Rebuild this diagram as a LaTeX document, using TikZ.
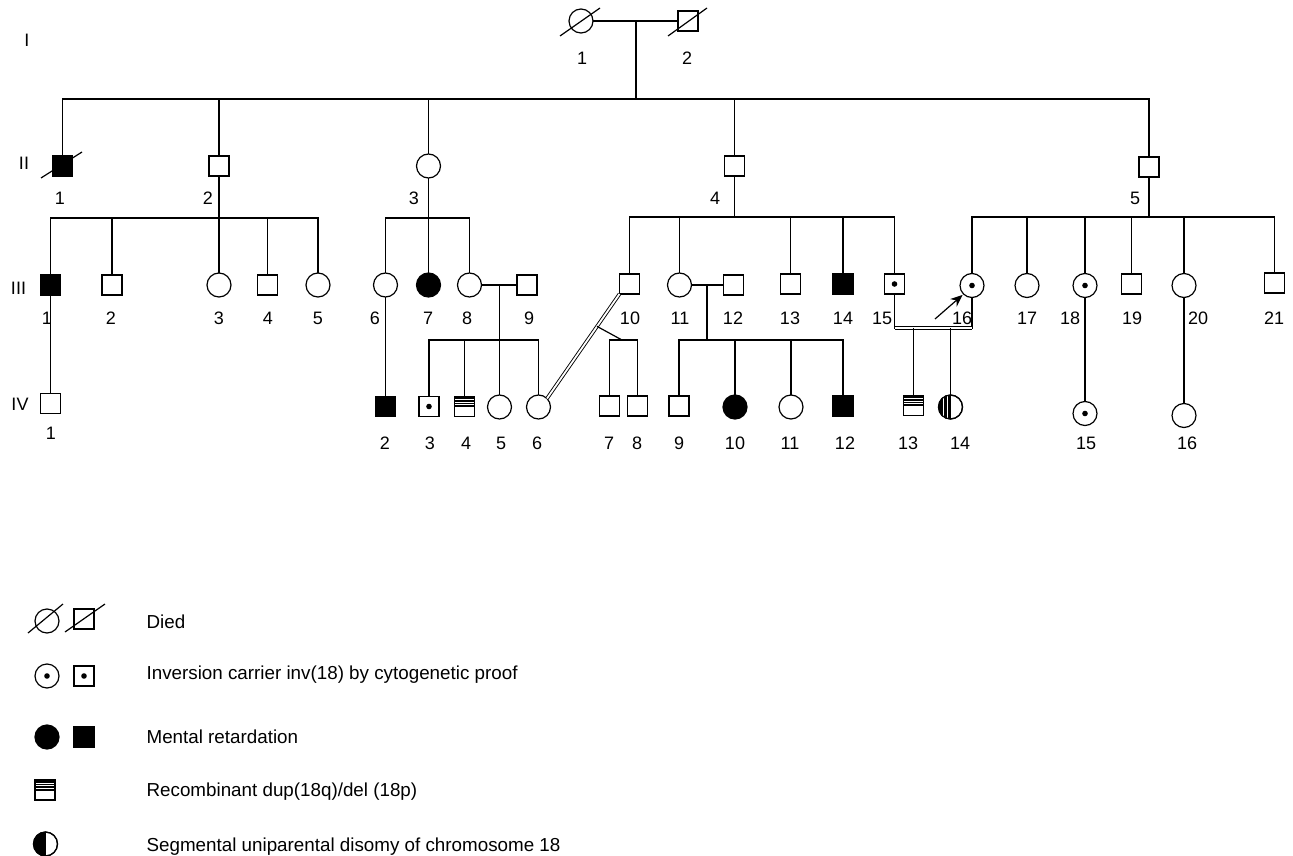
\documentclass[tikz,border=0pt]{standalone}
\usepackage{fontspec}
\setmainfont{Liberation Sans}
\usetikzlibrary{calc,arrows.meta}
\newcommand\pedfont{\fontsize{18pt}{21pt}\selectfont}
\newcommand\legfont{\fontsize{18.8pt}{22pt}\selectfont}
\begin{document}
\begin{tikzpicture}[x=1pt,y=-1pt,
  line width=1.2pt,
  sq/.style={draw, rectangle, minimum size=20pt, inner sep=0pt, outer sep=0pt, line width=1.2pt, fill=white},
  ci/.style={draw, circle, minimum size=24pt, inner sep=0pt, outer sep=0pt, line width=1.2pt, fill=white},
  aff/.style={fill=black},
  lab/.style={font=\pedfont, inner sep=0pt},
  leg/.style={font=\legfont, inner sep=0pt, anchor=base west},
  dbl/.style={double, double distance=1.8pt, line width=0.9pt}
]
\useasboundingbox (0,0) rectangle (1293,856);

% ---------- Generation I ----------
\node[ci] (i1) at (581,21) {};
\node[sq] (i2) at (688,21) {};
% ---------- Generation II ----------
\node[sq,aff] (ii1) at (62.5,166) {};
\node[sq] (ii2) at (219,166) {};
\node[ci] (ii3) at (428.5,166) {};
\node[sq] (ii4) at (734.5,166) {};
\node[sq] (ii5) at (1149,167) {};
% ---------- Generation III ----------
\node[sq,aff] (iii1) at (50.5,285) {};
\node[sq] (iii2) at (112,285) {};
\node[ci] (iii3) at (219,285) {};
\node[sq] (iii4) at (267.5,285) {};
\node[ci] (iii5) at (318,285) {};
\node[ci] (iii6) at (385.5,285) {};
\node[ci,aff] (iii7) at (428.5,285) {};
\node[ci] (iii8) at (469.5,285) {};
\node[sq] (iii9) at (527,285) {};
\node[sq] (iii10) at (629.5,284) {};
\node[ci] (iii11) at (679.5,285) {};
\node[sq] (iii12) at (733.5,285) {};
\node[sq] (iii13) at (790.5,284) {};
\node[sq,aff] (iii14) at (843,284) {};
\node[sq] (iii15) at (894.5,284) {};
\node[ci] (iii16) at (972,285.5) {};
\node[ci] (iii17) at (1027,285.5) {};
\node[ci] (iii18) at (1085,285.5) {};
\node[sq] (iii19) at (1131.5,284) {};
\node[ci] (iii20) at (1184,285.5) {};
\node[sq] (iii21) at (1274.5,283) {};
% ---------- Generation IV ----------
\node[sq] (iv1) at (50.5,403.5) {};
\node[sq,aff] (iv2) at (385.5,406.5) {};
\node[sq] (iv3) at (429,406.5) {};
\node[sq] (iv4) at (464.5,406.5) {};
\node[ci] (iv5) at (499.5,407) {};
\node[ci] (iv6) at (538.5,407) {};
\node[sq] (iv7) at (609.5,406) {};
\node[sq] (iv8) at (637.5,406) {};
\node[sq] (iv9) at (679,406) {};
\node[ci,aff] (iv10) at (735,407) {};
\node[ci] (iv11) at (791,407) {};
\node[sq,aff] (iv12) at (843,406) {};
\node[sq] (iv13) at (913.5,405.5) {};
\node[ci] (iv14) at (950.5,407) {};
\node[ci] (iv15) at (1085,413.5) {};
\node[ci] (iv16) at (1184,415.5) {};

% ---------- connectors ----------
\coordinate (mI) at (636,21);
\coordinate (sI) at (636,99);
\draw (i1) -- (i2);
\draw (mI) -- (sI);
\draw (ii1.north) |- (sI) -| (ii5.north);
\foreach \n in {ii2,ii3,ii4} \draw (\n.north) -- (\n.north |- sI);

\coordinate (s2) at (219,218);
\draw (ii2.south) -- (s2);
\draw (iii1.north) |- (s2) -| (iii5.north);
\foreach \n in {iii2,iii3,iii4} \draw (\n.north) -- (\n.north |- s2);

\coordinate (s3) at (428.5,218);
\draw (ii3.south) -- (s3);
\draw (iii6.north) |- (s3) -| (iii8.north);
\draw (iii7.north) -- (iii7.north |- s3);

\coordinate (s4) at (734.5,217);
\draw (ii4.south) -- (s4);
\draw (iii10.north) |- (s4) -| (iii15.north);
\foreach \n in {iii11,iii13,iii14} \draw (\n.north) -- (\n.north |- s4);

\coordinate (s5) at (1149,217);
\draw (ii5.south) -- (s5);
\draw (iii16.north) |- (s5) -| (iii21.north);
\foreach \n in {iii17,iii18,iii19,iii20} \draw (\n.north) -- (\n.north |- s5);

% marriages in III
\draw (iii8) -- (iii9.west |- iii8);
\coordinate (m89) at (499.5,285);
\coordinate (s89) at (499.5,340);
\draw (m89) -- (s89);
\draw (iv3.north) |- (s89) -| (iv6.north);
\draw (iv4.north) -- (iv4.north |- s89);
\draw (s89) -- (iv5.north);

\draw (iii11) -- (iii12.west |- iii11);
\coordinate (m1112) at (707,285);
\coordinate (s1112) at (707,340);
\draw (m1112) -- (s1112);
\draw (iv9.north) |- (s1112) -| (iv12.north);
\draw (iv10.north) -- (iv10.north |- s1112);
\draw (iv11.north) -- (iv11.north |- s1112);

\draw (iii1) -- (iv1);
\draw (iii6) -- (iv2);
\draw (iii18) -- (iv15);
\draw (iii20) -- (iv16);

% consanguineous III-10 x IV-6 with twins
\draw[dbl] (iii10.south west) -- (iv6.north east);
\coordinate (tw) at ($(iii10.south west)!0.31!(iv6.north east)$);
\coordinate (stw) at (622,340);
\draw (tw) -- (stw);
\draw (iv7.north) |- (stw) -| (iv8.north);

% consanguineous III-15 x III-16
\coordinate (c1516) at (930,328);
\draw (iii15.south) -- ([yshift=-1pt]iii15.south |- c1516);
\draw (iii16.south) -- ([yshift=-1pt]iii16.south |- c1516);
\draw[dbl] (iii15.south |- c1516) -- (iii16.south |- c1516);
\draw (iv13.north) -- (iv13.north |- c1516);
\draw (iv14.north) -- (iv14.north |- c1516);

% proband arrow
\coordinate (arr) at (935,319);
\draw[line width=1.2pt,-{Stealth[length=12pt,width=10pt]}] (arr) -- ([xshift=-1pt,yshift=-1pt]iii16.south west);

% ---------- died slashes ----------
\draw (i1.center) ++(-21,15) -- ++(40,-28);
\draw (i2.center) ++(-20,15) -- ++(39,-28);
\draw (ii1.center) ++(-21.5,12) -- ++(41,-26);

% ---------- legend symbols ----------
\node[ci] (ld1c) at (47,621) {};
\node[sq] (ld1s) at (84,619) {};
\draw (ld1c.center) ++(-19,12) -- ++(35,-29);
\draw (ld1s.center) ++(-19,13) -- ++(40,-28);
\node[ci] (ld2c) at (47,676) {};
\node[sq] (ld2s) at (84,676) {};
\node[ci,aff] (ld3c) at (47,737) {};
\node[sq,aff] (ld3s) at (84,737) {};
\node[sq] (lr) at (45,790) {};
\node[ci] (lu) at (45.5,844) {};

% carrier dots
\foreach \n in {iii15,iii16,iii18,iv3,iv15,ld2c,ld2s}
  \fill (\n.center) circle[radius=2.8pt];

% recombinant squares
\foreach \n in {iv4,iv13,lr}{
  \fill (\n.north west) rectangle (\n.east);
  \foreach \f in {0.3,0.55,0.8}
    \draw[white,line width=0.25pt] ($(\n.north west)!\f!(\n.west)$) -- ($(\n.north east)!\f!(\n.east)$);
  \draw (\n.west) -- (\n.east);
  \draw (\n.north west) rectangle (\n.south east);
}

% uniparental disomy circles
\foreach \n/\s in {iv14/1,lu/0}{
  \begin{scope}
    \clip ([xshift=-14pt,yshift=14pt]\n.center) rectangle ([yshift=-14pt]\n.center);
    \fill (\n.center) circle[radius=12pt];
    \ifnum\s=1
      \draw[white,line width=0.4pt] ([xshift=-3.5pt,yshift=14pt]\n.center) -- ([xshift=-3.5pt,yshift=-14pt]\n.center);
      \draw[white,line width=0.4pt] ([xshift=-7.5pt,yshift=14pt]\n.center) -- ([xshift=-7.5pt,yshift=-14pt]\n.center);
    \fi
  \end{scope}
  \draw (\n.north) -- (\n.south);
  \draw (\n.center) circle[radius=12pt];
}

% ---------- labels ----------
\node[lab] (gI) at (27,40) {I};
\node[lab] (gII) at (24,163) {II};
\node[lab] (gIII) at (18.5,288) {III};
\node[lab] (gIV) at (20,404) {IV};

\node[lab] (tI1) at (582,58) {1};
\node[lab] (tI2) at (687,58) {2};

\foreach \x/\t [count=\k] in {60/1,208/2,414/3,715/4,1135/5}
  \node[lab] (tII\k) at (\x,198) {\t};

\foreach \x/\t [count=\k] in {47/1,111/2,219/3,268/4,318/5,375/6,428/7,467/8,529/9,630/10,680/11,733/12,790/13,843/14,882/15,962/16,1027/17,1070/18,1132/19,1198/20,1274/21}
  \node[lab] (tIII\k) at (\x,318) {\t};

\node[lab] (tIV1) at (51,433) {1};
\foreach \x/\t [count=\k] in {385/2,430/3,466/4,501/5,537/6,609/7,637/8,679/9,735/10,790/11,845/12,908/13,960/14,1086/15,1187/16}
  \node[lab] (tIVb\k) at (\x,443) {\t};

% legend texts
\node[leg] (lt1) at (146,628) {Died};
\node[leg] (lt2) at (146,679) {Inversion carrier inv(18) by cytogenetic proof};
\node[leg] (lt3) at (146,743) {Mental retardation};
\node[leg] (lt4) at (146,796) {Recombinant dup(18q)/del (18p)};
\node[leg] (lt5) at (146,851) {Segmental uniparental disomy of chromosome 18};
\end{tikzpicture}
\end{document}
